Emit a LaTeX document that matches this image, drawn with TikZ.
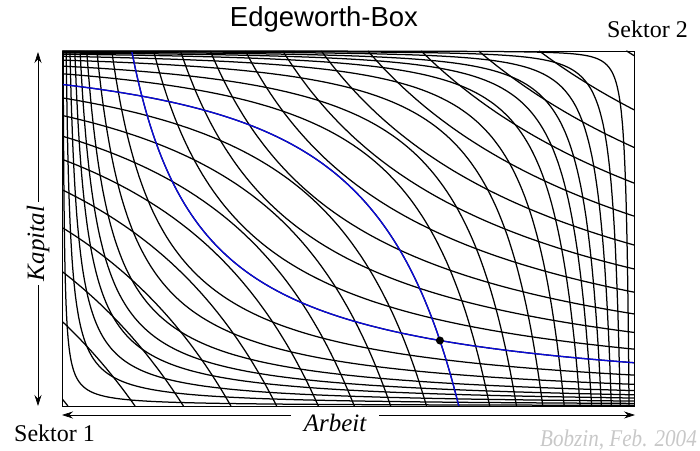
\documentclass[tikz,border=0pt]{standalone}
\usepackage{fontspec}
\setmainfont{Liberation Serif}
\newfontfamily\titlefont{Liberation Sans}
\usetikzlibrary{arrows.meta,intersections}
\definecolor{curveblue}{RGB}{10,10,220}
\definecolor{signgray}{RGB}{200,200,200}
\begin{document}
\begin{tikzpicture}[x=1pt,y=1pt,
  icurve/.style={line width=1.25pt, black},
  bcurve/.style={line width=1.3pt, curveblue},
  axarrow/.style={-{Stealth[length=11pt,width=7pt]}, line width=0.7pt},
  lab/.style={font=\fontsize{24}{28}\selectfont, inner sep=0pt},
  axlab/.style={font=\fontsize{25}{28}\selectfont\itshape, inner sep=0pt}]
\useasboundingbox (0,0) rectangle (700,450);

% texts
\node[font=\titlefont\fontsize{27.5}{30}\selectfont, anchor=base, inner sep=0pt] (title) at (324,423) {Edgeworth-Box};
\node[lab, anchor=base east] (s2) at (688,412) {Sektor 2};
\node[lab, anchor=base west] (s1) at (14,9) {Sektor 1};
\node[font=\fontsize{24}{26}\selectfont\itshape, text=signgray, anchor=base east, inner sep=0pt, xscale=0.88] (bob) at (697,4) {Bobzin, Feb. 2004};

% axis arrows
\node[axlab, anchor=base, inner xsep=13pt] (arb) at (335,19) {Arbeit};
\coordinate (aleft) at (62,35);
\coordinate (aright) at (635,35);
\draw[axarrow] (arb.west |- aleft) -- (aleft);
\draw[axarrow] (arb.east |- aright) -- (aright);

\node[axlab, rotate=90, inner xsep=4pt] (kap) at (38,206.5) {Kapital};
\coordinate (ktop) at (38,398);
\coordinate (kbot) at (38,44);
\draw[axarrow] (kap.east) -- (ktop);
\draw[axarrow] (kap.west) -- (kbot);

% box with indifference curves
\begin{scope}[shift={(62,44)}, x=572.5pt, y=355pt]
  \begin{scope}
    \clip (0,0) rectangle (1,1);
    \foreach \tv in {0.045,0.085,0.118,0.148,0.177,0.208,0.247,0.295,0.349,0.400,0.455,0.509,0.566,0.621,0.673,0.731,0.792,0.853,0.913,0.993} {
      \pgfmathsetmacro\lt{ln(\tv)}
      \pgfmathsetmacro\aone{2*\lt}
      \pgfmathsetmacro\atwo{1.5*\lt}
      \draw[icurve] plot[domain=\aone:0, samples=90] ({exp(\x)}, {exp(2*\lt-\x)});
      \draw[icurve] plot[domain=\atwo:0, samples=90] ({1-exp(\x)}, {1-exp(3*\lt-2*\x)});
    }
    \pgfmathsetmacro\lb{ln(0.349)}
    \pgfmathsetmacro\ab{2*\lb}
    \draw[bcurve, name path=bone] plot[domain=\ab:0, samples=120] ({exp(\x)}, {exp(2*\lb-\x)});
    \pgfmathsetmacro\lc{ln(0.455)}
    \pgfmathsetmacro\ac{1.5*\lc}
    \draw[bcurve, name path=btwo] plot[domain=\ac:0, samples=120] ({1-exp(\x)}, {1-exp(3*\lc-2*\x)});
    \path[name intersections={of=bone and btwo, by={E1,E2}, sort by=bone}];
    \fill[black] (E2) circle[radius=4pt];
  \end{scope}
  \draw[line width=0.8pt] (0,0) rectangle (1,1);
\end{scope}
\end{tikzpicture}
\end{document}
